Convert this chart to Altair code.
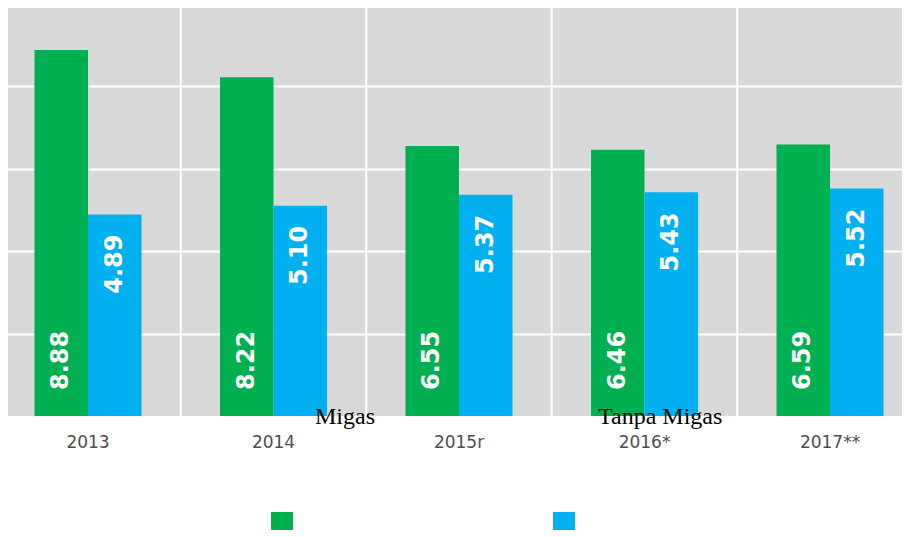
import altair as alt
import pandas as pd

years = ["2013", "2014", "2015r", "2016*", "2017**"]
migas = [8.88, 8.22, 6.55, 6.46, 6.59]
tanpa_migas = [4.89, 5.10, 5.37, 5.43, 5.52]
series = ["Migas", "Tanpa Migas"]
colors = ["#00B050", "#00B0F0"]

rows = []
for yr, m, t in zip(years, migas, tanpa_migas):
    rows.append({"year": yr, "series": series[0], "value": m})
    rows.append({"year": yr, "series": series[1], "value": t})
df = pd.DataFrame(rows)
bounds = pd.DataFrame({"year": years[1:]})

xscale = alt.Scale(domain=years, range=[-12.75, 914.75], paddingInner=0, paddingOuter=0)
xoscale = alt.Scale(domain=series, paddingInner=0, paddingOuter=0.733)
yscale = alt.Scale(domain=[0, 9.9], nice=False)

xaxis = alt.Axis(title=None, ticks=False, domain=False, grid=False, labelFontSize=17,
                 labelColor="#4d4d4d", labelFont="DejaVu Sans", labelPadding=18, labelAngle=0)
yaxis = alt.Axis(title=None, values=[2, 4, 6, 8], labels=False, ticks=False, domain=False,
                 grid=True, gridColor="white", gridWidth=2)

rules = alt.Chart(bounds).mark_rule(color="white", strokeWidth=2).encode(
    x=alt.X("year:N", bandPosition=0, scale=xscale, axis=xaxis, sort=years)
)

bars = alt.Chart(df).mark_bar().encode(
    x=alt.X("year:N", scale=xscale, axis=xaxis, sort=years),
    xOffset=alt.XOffset("series:N", scale=xoscale, sort=series),
    y=alt.Y("value:Q", scale=yscale, axis=yaxis),
    color=alt.Color("series:N", scale=alt.Scale(domain=series, range=colors),
                    legend=alt.Legend(orient="none", legendX=263, legendY=504, direction="horizontal",
                                      title=None, symbolType="square", symbolSize=484,
                                      symbolStrokeWidth=0, labelExpr="''", columnPadding=260,
                                      labelOffset=0, symbolOpacity=1)),
)

lab_green = alt.Chart(df).transform_filter(alt.datum.series == series[0]).mark_text(
    angle=270, align="left", baseline="middle", color="white", font="DejaVu Sans",
    fontWeight="bold", fontSize=24, yOffset=-26
).encode(
    x=alt.X("year:N", scale=xscale, sort=years),
    xOffset=alt.XOffset("series:N", scale=xoscale, sort=series),
    y=alt.datum(0),
    text=alt.Text("value:Q", format=".2f"),
)

lab_blue = alt.Chart(df).transform_filter(alt.datum.series == series[1]).mark_text(
    angle=270, align="right", baseline="middle", color="white", font="DejaVu Sans",
    fontWeight="bold", fontSize=24, yOffset=20
).encode(
    x=alt.X("year:N", scale=xscale, sort=years),
    xOffset=alt.XOffset("series:N", scale=xoscale, sort=series),
    y=alt.Y("value:Q", scale=yscale),
    text=alt.Text("value:Q", format=".2f"),
)

t1 = alt.Chart(pd.DataFrame({"label": [series[0]]})).mark_text(
    align="left", baseline="alphabetic", font="Liberation Serif", fontSize=24, color="black"
).encode(x=alt.value(307), y=alt.value(416), text="label:N")
t2 = alt.Chart(pd.DataFrame({"label": [series[1]]})).mark_text(
    align="left", baseline="alphabetic", font="Liberation Serif", fontSize=24, color="black"
).encode(x=alt.value(590), y=alt.value(416), text="label:N")

chart = alt.layer(rules, bars, lab_green, lab_blue, t1, t2).properties(
    width=894, height=408,
    padding={"left": 0, "top": 0, "right": 0, "bottom": 114},
    autosize=alt.AutoSizeParams(type="none"),
).configure_view(fill="#D9D9D9", strokeWidth=0)

chart.save("out.html", embed_options={"renderer": "svg", "actions": False})
